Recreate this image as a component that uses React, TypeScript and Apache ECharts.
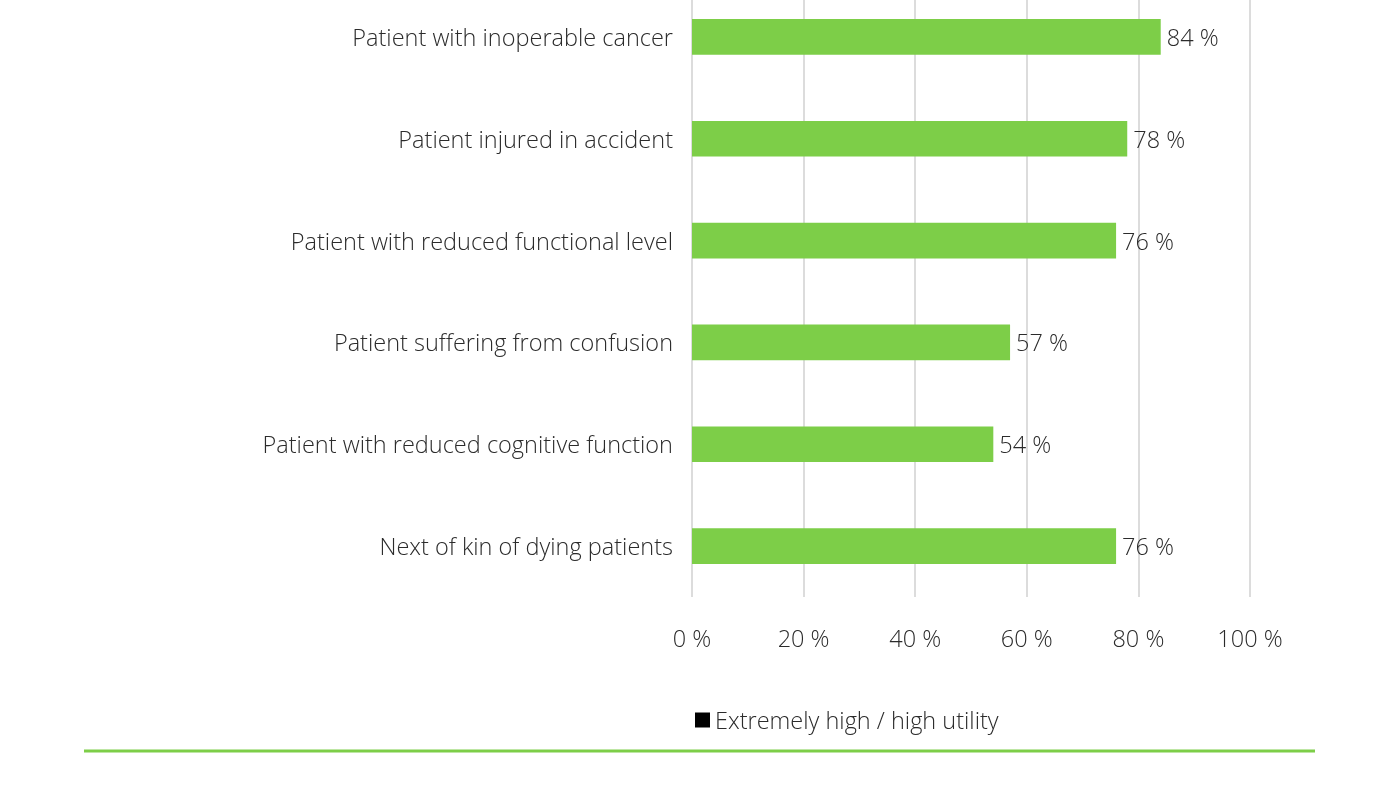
import React, { useEffect, useRef } from "react";
import * as echarts from "echarts";

const categories = [
  "Patient with inoperable cancer",
  "Patient injured in accident",
  "Patient with reduced functional level",
  "Patient suffering from confusion",
  "Patient with reduced cognitive function",
  "Next of kin of dying patients",
];
const values = [84, 78, 76, 57, 54, 76];
const seriesName = "Extremely high / high utility";
const xTicks = [0, 20, 40, 60, 80, 100];

const FONT = "'Open Sans', sans-serif";
const TEXT = "#2b2b2b";
const GREEN = "#7dce48";
const FS = 23.5;
const OFFSET = 14;

export default function App() {
  const ref = useRef<HTMLDivElement>(null);
  useEffect(() => {
    const chart = echarts.init(ref.current!, null, { renderer: "svg" });
    chart.setOption({
      animation: false,
      textStyle: { fontFamily: FONT },
      grid: { left: 692, right: 150, top: 0, bottom: 189, containLabel: false },
      xAxis: {
        type: "value",
        min: xTicks[0],
        max: xTicks[xTicks.length - 1],
        interval: 20,
        axisLine: { show: false },
        axisTick: { show: false },
        splitLine: { lineStyle: { color: "#d0d0d0", width: 1.5 } },
        axisLabel: {
          formatter: (v: number) => `${v} %`,
          fontSize: FS,
          color: TEXT,
          margin: 29,
          fontFamily: FONT,
          fontWeight: 300,
        },
      },
      yAxis: {
        type: "category",
        data: categories,
        inverse: true,
        axisLine: { show: false },
        axisTick: { show: false },
        axisLabel: { fontSize: FS, color: TEXT, margin: 19, fontFamily: FONT, fontWeight: 300 },
      },
      legend: {
        left: 690,
        top: 703 + OFFSET,
        icon: "rect",
        itemWidth: 15,
        itemHeight: 15,
        itemGap: 8,
        textStyle: { fontSize: FS, color: TEXT, fontFamily: FONT, fontWeight: 300 },
        data: [{ name: seriesName, itemStyle: { color: "#000" } }],
      },
      series: [
        {
          name: seriesName,
          type: "bar",
          data: values,
          barCategoryGap: "65%",
          itemStyle: { color: GREEN },
          label: {
            show: true,
            position: "right",
            distance: 6,
            formatter: (p: any) => `${p.value} %`,
            fontSize: FS,
            color: TEXT,
            fontFamily: FONT,
            fontWeight: 300,
          },
        },
      ],
      graphic: [
        {
          type: "line",
          shape: { x1: 84, y1: 751 + OFFSET, x2: 1315, y2: 751 + OFFSET },
          style: { stroke: GREEN, lineWidth: 3 },
        },
      ],
    });
    return () => chart.dispose();
  }, []);
  return (
    <div style={{ position: "fixed", left: 0, top: 0, width: 1400, height: 786, overflow: "hidden" }}>
      <div ref={ref} style={{ position: "absolute", left: 0, top: -OFFSET, width: 1400, height: 786 + OFFSET }} />
    </div>
  );
}
